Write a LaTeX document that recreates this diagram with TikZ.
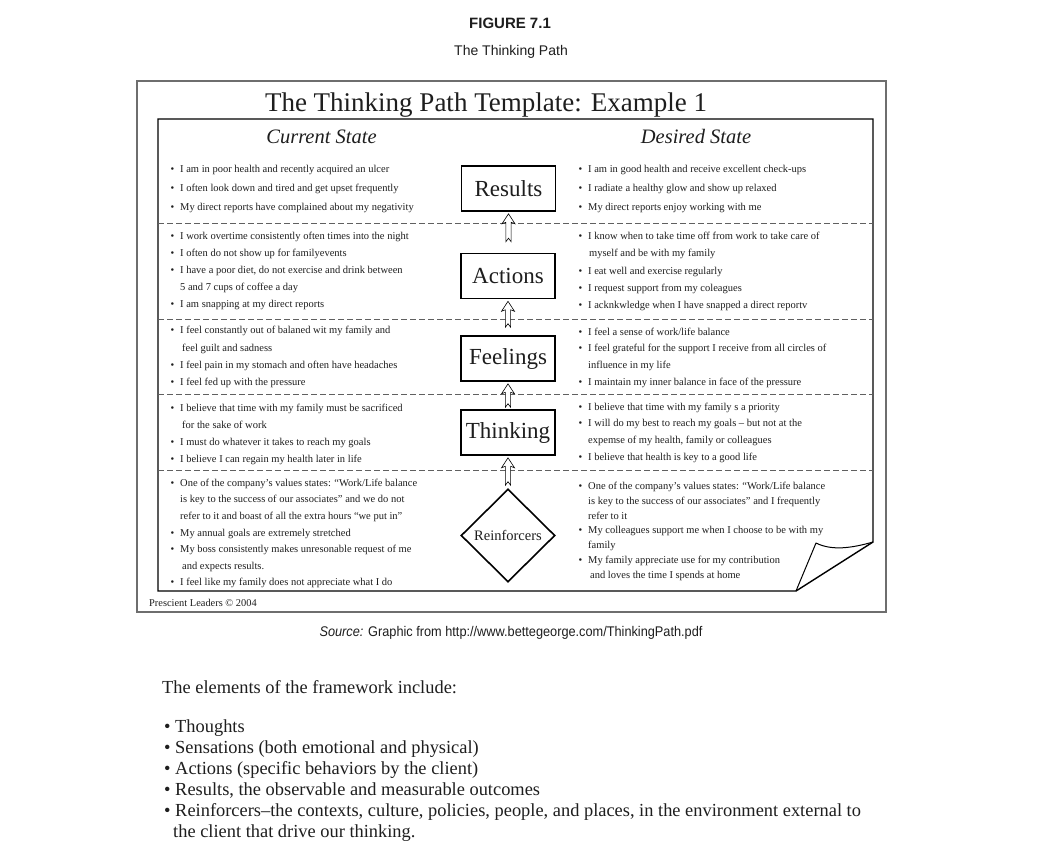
\documentclass[tikz,border=0pt]{standalone}
\usepackage{fontspec}
\setmainfont{Liberation Serif}
\newfontfamily\headsans{Liberation Sans}
\newfontfamily\condsans[FakeStretch=0.91]{Liberation Sans}
\usetikzlibrary{shapes.geometric,calc}
\definecolor{ink}{HTML}{1E1E1E}
\definecolor{framegray}{HTML}{6E6E6E}
\definecolor{dashgray}{HTML}{606060}
\tikzset{
  itm/.style={anchor=base west, inner sep=0pt, text=ink, font=\fontsize{10.5}{12}\selectfont},
  stagebox/.style={draw=black, line width=1.6pt, minimum width=94pt, minimum height=45pt, inner sep=0pt, font=\fontsize{23}{26}\selectfont, text=ink},
  reinf/.style={diamond, draw=black, line width=1.6pt, minimum width=94pt, minimum height=93pt, inner sep=0pt, font=\fontsize{14.5}{16}\selectfont, text=ink},
  harrow/.style={draw=black, line width=0.6pt, fill=white, line join=miter},
  sepline/.style={draw=dashgray, line width=0.9pt, dash pattern=on 6pt off 3pt},
  body/.style={anchor=base west, inner sep=0pt, text=ink, font=\fontsize{18.4}{21}\selectfont},
}
\newcommand\bitem[4]{\node[itm] (#1) at (#2,#3) {\llap{\textbullet\hspace{6pt}}#4};}
\newcommand\citem[4]{\node[itm] (#1) at (#2,#3) {#4};}
\newcommand\hollowup[3]{%
  \draw[harrow] let \p1=(#1.south), \p2=(#2.north) in
    (\x1,\y1-2pt) -- (\x1-6.5pt,\y1-12pt) -- (\x1-2.6pt,\y1-10.5pt) -- (\x1-2.6pt,\y2+#3) --
    (\x1,\y2+#3+3.5pt) -- (\x1+2.6pt,\y2+#3) -- (\x1+2.6pt,\y1-10.5pt) -- (\x1+6.5pt,\y1-12pt) -- cycle;}
\begin{document}
\begin{tikzpicture}[x=1pt,y=-1pt]
\useasboundingbox[fill=white] (0,0) rectangle (1064,862);

% header
\node[anchor=base, inner sep=0pt, text=ink, font=\headsans\bfseries\fontsize{15}{17}\selectfont] (fig) at (510,28) {FIGURE 7.1};
\node[anchor=base, inner sep=0pt, text=ink, font=\headsans\fontsize{14}{16}\selectfont] (subt) at (511,55) {The Thinking Path};

% frames
\draw[framegray, line width=1.2pt] (137,81) rectangle (886,612);
\node[anchor=base, inner sep=0pt, text=ink, font=\fontsize{27}{30}\selectfont] (title) at (486,111) {The Thinking Path Template: Example 1};
\draw[black, line width=1.4pt] (796,591) -- (158,591) -- (158,119) -- (873,119) -- (873,542) -- cycle;
\draw[black, line width=1pt, line join=round] (796,591) -- (816,543) .. controls (832,551) and (852,548) .. (873,542);

\node[anchor=base, inner sep=0pt, text=ink, font=\itshape\fontsize{20.5}{23}\selectfont] (cur) at (321.5,143) {Current State};
\node[anchor=base, inner sep=0pt, text=ink, font=\itshape\fontsize{20.5}{23}\selectfont] (des) at (696,143) {Desired State};

% separators
\foreach \yy in {223.5,319,394,470.5} \draw[sepline] (158,\yy) -- (873,\yy);

% stages
\node[stagebox] (results) at (508.5,188.5) {Results};
\node[stagebox] (actions) at (508,276) {Actions};
\node[stagebox] (feelings) at (508,358.5) {Feelings};
\node[stagebox] (thinking) at (508,432.5) {Thinking};
\node[reinf] (reinforcers) at (508,535.5) {Reinforcers};

\hollowup{results}{actions}{11pt}
\hollowup{actions}{feelings}{8pt}
\hollowup{feelings}{thinking}{2pt}
\hollowup{thinking}{reinforcers}{3pt}

% left column
\bitem{la1}{180}{172}{I am in poor health and recently acquired an ulcer}
\bitem{la2}{180}{191}{I often look down and tired and get upset frequently}
\bitem{la3}{180}{210}{My direct reports have complained about my negativity}

\bitem{lb1}{180}{239}{I work overtime consistently often times into the night}
\bitem{lb2}{180}{256.2}{I often do not show up for familyevents}
\bitem{lb3}{180}{273.4}{I have a poor diet, do not exercise and drink between}
\citem{lb4}{180}{290.6}{5 and 7 cups of coffee a day}
\bitem{lb5}{180}{307.8}{I am snapping at my direct reports}

\bitem{lc1}{180}{333.7}{I feel constantly out of balaned wit my family and}
\citem{lc2}{182}{351}{feel guilt and sadness}
\bitem{lc3}{180}{368.3}{I feel pain in my stomach and often have headaches}
\bitem{lc4}{180}{385.6}{I feel fed up with the pressure}

\bitem{ld1}{180}{411.3}{I believe that time with my family must be sacrificed}
\citem{ld2}{182}{428.3}{for the sake of work}
\bitem{ld3}{180}{445.3}{I must do whatever it takes to reach my goals}
\bitem{ld4}{180}{462.3}{I believe I can regain my health later in life}

\bitem{le1}{180}{486.3}{One of the company’s values states: “Work/Life balance}
\citem{le2}{180}{502.9}{is key to the success of our associates” and we do not}
\citem{le3}{180}{519.5}{refer to it and boast of all the extra hours “we put in”}
\bitem{le4}{180}{536.1}{My annual goals are extremely stretched}
\bitem{le5}{180}{552.7}{My boss consistently makes unresonable request of me}
\citem{le6}{182}{569.3}{and expects results.}
\bitem{le7}{180}{585.9}{I feel like my family does not appreciate what I do}

% right column
\bitem{ra1}{588}{172}{I am in good health and receive excellent check-ups}
\bitem{ra2}{588}{191}{I radiate a healthy glow and show up relaxed}
\bitem{ra3}{588}{210}{My direct reports enjoy working with me}

\bitem{rb1}{588}{239.5}{I know when to take time off from work to take care of}
\citem{rb2}{589}{256.8}{myself and be with my family}
\bitem{rb3}{588}{274}{I eat well and exercise regularly}
\bitem{rb4}{588}{291.3}{I request support from my coleagues}
\bitem{rb5}{588}{308.5}{I acknkwledge when I have snapped a direct reportv}

\bitem{rc1}{588}{335}{I feel a sense of work/life balance}
\bitem{rc2}{588}{351.8}{I feel grateful for the support I receive from all circles of}
\citem{rc3}{588}{368.5}{influence in my life}
\bitem{rc4}{588}{385.3}{I maintain my inner balance in face of the pressure}

\bitem{rd1}{588}{410}{I believe that time with my family s a priority}
\bitem{rd2}{588}{426.8}{I will do my best to reach my goals – but not at the}
\citem{rd3}{588}{443.6}{expemse of my health, family or colleagues}
\bitem{rd4}{588}{460.4}{I believe that health is key to a good life}

\bitem{re1}{588}{489.5}{One of the company’s values states: “Work/Life balance}
\citem{re2}{588}{504.3}{is key to the success of our associates” and I frequently}
\citem{re3}{588}{519.1}{refer to it}
\bitem{re4}{588}{533.9}{My colleagues support me when I choose to be with my}
\citem{re5}{588}{548.7}{family}
\bitem{re6}{588}{563.5}{My family appreciate use for my contribution}
\citem{re7}{590}{578.3}{and loves the time I spends at home}

\node[anchor=base west, inner sep=0pt, text=ink, font=\fontsize{10.4}{12}\selectfont] (copy) at (149,606) {Prescient Leaders © 2004};

% source
\node[anchor=base, inner sep=0pt, text=ink, font=\condsans\fontsize{14}{16}\selectfont] (src) at (511,636) {\textit{Source:} Graphic from http://www.bettegeorge.com/ThinkingPath.pdf};

% body text
\node[body] (intro) at (162,693) {The elements of the framework include:};
\node[body] (b1) at (164,732) {• Thoughts};
\node[body] (b2) at (164,753) {• Sensations (both emotional and physical)};
\node[body] (b3) at (164,774) {• Actions (specific behaviors by the client)};
\node[body] (b4) at (164,795) {• Results, the observable and measurable outcomes};
\node[body] (b5) at (164,816) {• Reinforcers–the contexts, culture, policies, people, and places, in the environment external to};
\node[body] (b6) at (173,837) {the client that drive our thinking.};
\end{tikzpicture}
\end{document}
